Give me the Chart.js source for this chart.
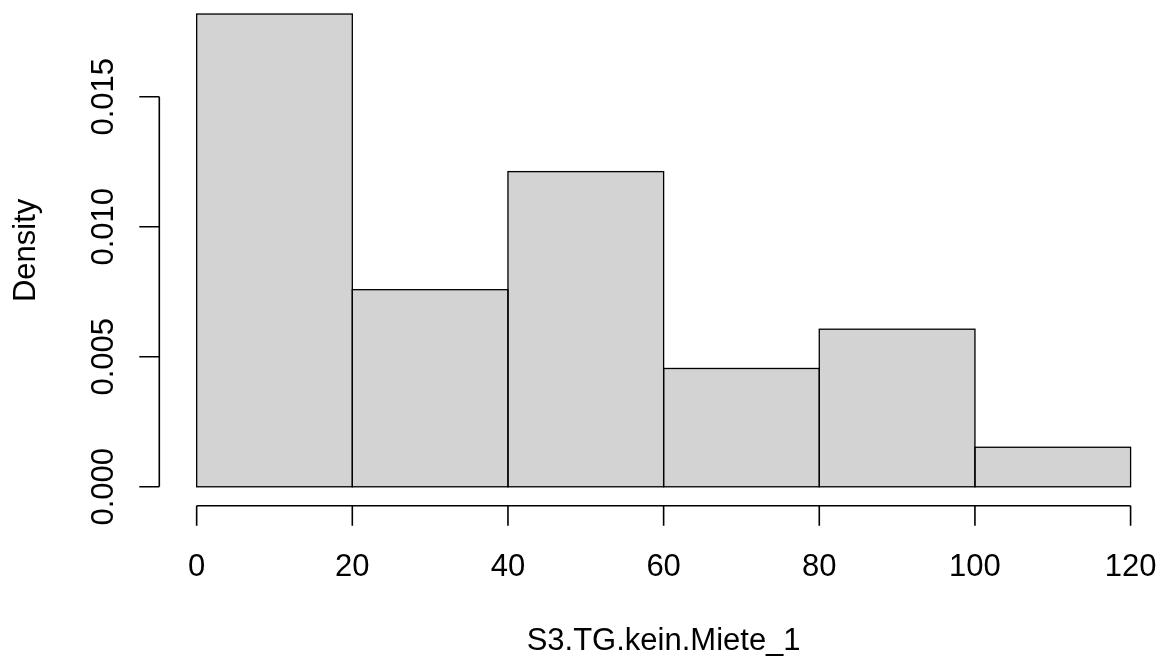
<!DOCTYPE html>
<html>
<head>
<meta charset="utf-8">
<script src="https://cdn.jsdelivr.net/npm/chart.js@4.4.1/dist/chart.umd.min.js"></script>
<style>
  html, body { margin: 0; padding: 0; background: #ffffff; }
  canvas { display: block; }
</style>
</head>
<body>
<canvas id="hist" width="1166" height="662"></canvas>
<script>
// histogram of S3.TG.kein.Miete_1 (bin midpoints + density)
const binMids = [10, 30, 50, 70, 90, 110];
const binWidth = 20;
const density = [0.01818, 0.00758, 0.01212, 0.00455, 0.00606, 0.00152];
const xTicks = [0, 20, 40, 60, 80, 100, 120];
const yTicks = [0, 0.005, 0.010, 0.015];
const yTickLabels = ['0.000', '0.005', '0.010', '0.015'];
const xTitle = 'S3.TG.kein.Miete_1';
const yTitle = 'Density';

const FONT = '31px "Liberation Sans", Arial, sans-serif';
const INK = '#000000';

// R pads the data range by 4% on each side
const xLo = -0.04 * 120, xHi = 124.55;
const yLo = -0.04 * 0.01818, yHi = 0.01872;

const rAxes = {
    id: 'rAxes',
    afterDatasetsDraw(chart) {
        const ctx = chart.ctx;
        const xs = chart.scales.x, ys = chart.scales.y;
        const area = chart.chartArea;

        // bar outlines
        ctx.save();
        ctx.strokeStyle = INK;
        ctx.lineWidth = 1.3;
        chart.getDatasetMeta(0).data.forEach(bar => {
            const l = bar.x - bar.width / 2;
            ctx.strokeRect(l, bar.y, bar.width, bar.base - bar.y);
        });

        ctx.lineWidth = 1.6;
        ctx.fillStyle = INK;
        ctx.font = FONT;

        // y axis at left edge of plot region
        const ax = area.left;
        ctx.beginPath();
        ctx.moveTo(ax, ys.getPixelForValue(yTicks[0]));
        ctx.lineTo(ax, ys.getPixelForValue(yTicks[yTicks.length - 1]));
        yTicks.forEach(v => {
            const py = ys.getPixelForValue(v);
            ctx.moveTo(ax, py);
            ctx.lineTo(ax - 20, py);
        });
        ctx.stroke();
        yTicks.forEach((v, i) => {
            const py = ys.getPixelForValue(v);
            ctx.save();
            ctx.translate(113, py);
            ctx.rotate(-Math.PI / 2);
            ctx.textAlign = 'center';
            ctx.textBaseline = 'alphabetic';
            ctx.fillText(yTickLabels[i], 0, 0);
            ctx.restore();
        });

        // x axis at bottom edge of plot region
        const ay = area.bottom;
        ctx.beginPath();
        ctx.moveTo(xs.getPixelForValue(xTicks[0]), ay);
        ctx.lineTo(xs.getPixelForValue(xTicks[xTicks.length - 1]), ay);
        xTicks.forEach(v => {
            const px = xs.getPixelForValue(v);
            ctx.moveTo(px, ay);
            ctx.lineTo(px, ay + 20);
        });
        ctx.stroke();
        ctx.textAlign = 'center';
        ctx.textBaseline = 'alphabetic';
        xTicks.forEach(v => {
            ctx.fillText(String(v), xs.getPixelForValue(v), 575.5);
        });

        // axis titles
        ctx.fillText(xTitle, xs.getPixelForValue(60), 650);
        ctx.save();
        ctx.translate(35, ys.getPixelForValue((yLo + 0.01891) / 2));
        ctx.rotate(-Math.PI / 2);
        ctx.fillText(yTitle, 0, 0);
        ctx.restore();

        ctx.restore();
    }
};

new Chart(document.getElementById('hist'), {
    type: 'bar',
    data: {
        datasets: [{
            label: xTitle,
            data: binMids.map((m, i) => ({ x: m, y: density[i] })),
            backgroundColor: '#D3D3D3',
            borderWidth: 0,
            barPercentage: 1,
            categoryPercentage: 1
        }]
    },
    options: {
        responsive: false,
        animation: false,
        devicePixelRatio: 1,
        layout: { padding: { left: 159.3, right: 0, top: 0, bottom: 156.3 } },
        scales: {
            x: { type: 'linear', min: xLo, max: xHi, display: false, offset: false },
            y: { type: 'linear', min: yLo, max: yHi, display: false }
        },
        plugins: {
            legend: { display: false },
            tooltip: { enabled: false }
        }
    },
    plugins: [rAxes]
});
</script>
</body>
</html>
